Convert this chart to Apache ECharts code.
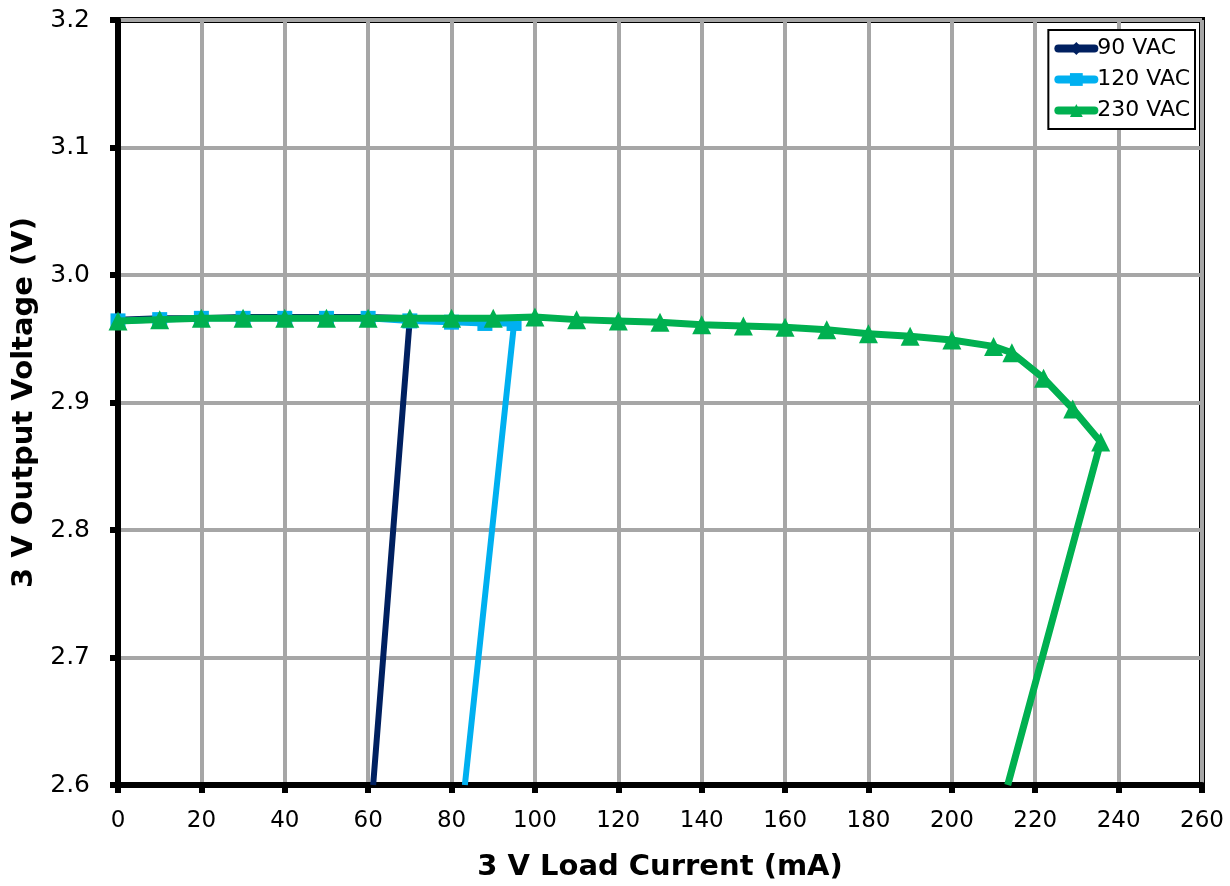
<!DOCTYPE html>
<html>
<head>
<meta charset="utf-8">
<script src="https://cdn.jsdelivr.net/npm/echarts@6/dist/echarts.min.js"></script>
<style>html,body{margin:0;padding:0;background:#fff;}#c{width:1230px;height:886px;}</style>
</head>
<body>
<div id="c"></div>
<script>
// Data (x = load current mA, y = output voltage V)
const x90  = [0, 10, 20, 30, 40, 50, 60, 70, 61.2];
const y90  = [2.965, 2.966, 2.966, 2.967, 2.967, 2.967, 2.967, 2.966, 2.6];
const x120 = [0, 10, 20, 30, 40, 50, 60, 70, 80, 88, 95, 83.2];
const y120 = [2.964, 2.965, 2.966, 2.966, 2.966, 2.966, 2.966, 2.964, 2.963, 2.962, 2.962, 2.6];
const x230 = [0, 10, 20, 30, 40, 50, 60, 70, 80, 90, 100, 110, 120, 130, 140, 150, 160, 170, 180, 190, 200, 210, 214.4, 222, 229, 235.7, 213.4];
const y230 = [2.964, 2.965, 2.966, 2.966, 2.966, 2.966, 2.966, 2.966, 2.966, 2.966, 2.967, 2.965, 2.964, 2.963, 2.961, 2.960, 2.959, 2.957, 2.954, 2.952, 2.949, 2.944, 2.939, 2.919, 2.895, 2.869, 2.6];
const seriesNames = ['90 VAC', '120 VAC', '230 VAC'];
const xTicks = {min: 0, max: 260, step: 20};
const yTicks = {min: 2.6, max: 3.2, step: 0.1};
const colors = ['#002060', '#00b0f0', '#00b050'];

function pts(xs, ys) {
  return xs.map((x, i) => {
    const item = {value: [x, ys[i]]};
    if (i === xs.length - 1) item.symbol = 'none';
    return item;
  });
}

const font = 'DejaVu Sans, Verdana, sans-serif';
const chart = echarts.init(document.getElementById('c'));
chart.setOption({
  animation: false,
  backgroundColor: '#fff',
  grid: {left: 118, right: 28, top: 20, bottom: 101, containLabel: false, outerBoundsMode: 'none',
         show: true, borderColor: '#000', borderWidth: 6, backgroundColor: 'transparent'},
  legend: {
    data: seriesNames.map((n, i) => ({name: n, lineStyle: {width: 8, color: colors[i], cap: 'round'}})),
    orient: 'vertical',
    right: 35, top: 30,
    backgroundColor: '#fff',
    borderColor: '#000', borderWidth: 2,
    padding: [6, 5, 6, 6],
    itemGap: 6,
    itemWidth: 36, itemHeight: 16,
    textStyle: {fontFamily: font, fontSize: 22, lineHeight: 25, color: '#000', padding: [0, 0, 0, -2]}
  },
  xAxis: {
    type: 'value', min: xTicks.min, max: xTicks.max, interval: xTicks.step,
    name: '3 V Load Current (mA)', nameLocation: 'middle', nameGap: 68,
    nameTextStyle: {fontFamily: font, fontSize: 29, fontWeight: 'bold', color: '#000'},
    axisLine: {show: true, lineStyle: {color: '#000', width: 6}},
    axisTick: {show: true, inside: false, length: 8, lineStyle: {color: '#000', width: 6}},
    axisLabel: {fontFamily: font, fontSize: 23, color: '#000', margin: 25},
    splitLine: {show: true, lineStyle: {color: '#a6a6a6', width: 4}}
  },
  yAxis: {
    type: 'value', min: yTicks.min, max: yTicks.max, interval: yTicks.step,
    name: '3 V Output Voltage (V)', nameLocation: 'middle', nameGap: 78,
    nameTextStyle: {fontFamily: font, fontSize: 29, fontWeight: 'bold', color: '#000'},
    axisLine: {show: true, lineStyle: {color: '#000', width: 6}},
    axisTick: {show: true, inside: false, length: 8, lineStyle: {color: '#000', width: 6}},
    axisLabel: {fontFamily: font, fontSize: 25, color: '#000', margin: 28, formatter: v => v.toFixed(1)},
    splitLine: {show: true, lineStyle: {color: '#a6a6a6', width: 4}}
  },
  series: [
    {name: seriesNames[0], type: 'line', data: pts(x90, y90), symbol: 'diamond', symbolSize: 13,
     lineStyle: {color: colors[0], width: 6}, itemStyle: {color: colors[0]}, z: 2},
    {name: seriesNames[1], type: 'line', data: pts(x120, y120), symbol: 'rect', symbolSize: 15,
     lineStyle: {color: colors[1], width: 6}, itemStyle: {color: colors[1]}, z: 3},
    {name: seriesNames[2], type: 'line', data: pts(x230, y230), symbol: 'triangle', symbolSize: 19,
     lineStyle: {color: colors[2], width: 7}, itemStyle: {color: colors[2]}, z: 4}
  ]
});
</script>
</body>
</html>
